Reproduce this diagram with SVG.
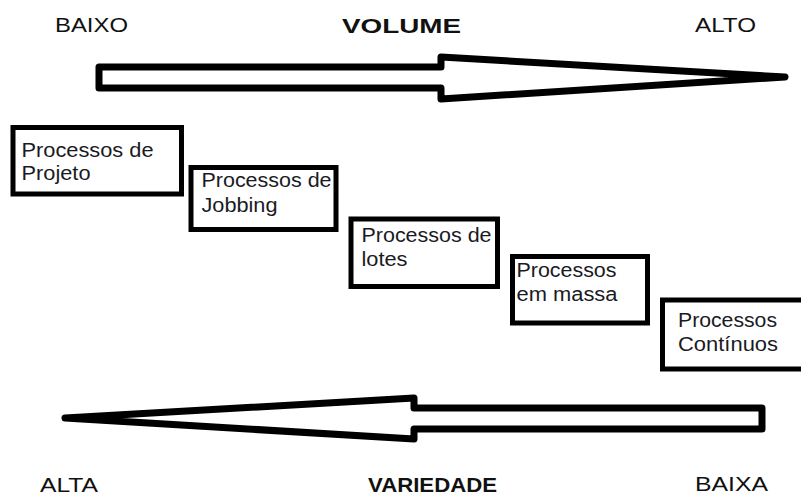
<svg xmlns="http://www.w3.org/2000/svg" width="801" height="497" viewBox="0 0 801 497">
<style>
.box{fill:#fff;stroke:#000;stroke-width:5}
.arrow{fill:#fff;stroke:#000;stroke-width:7;stroke-linejoin:round}
.t{font-family:"Liberation Sans",Arial,sans-serif;font-size:20px;fill:#1a1a24}
.h{font-family:"Liberation Sans",Arial,sans-serif;font-size:21px;fill:#111}
.b{font-weight:bold}
</style>
<rect width="801" height="497" fill="#fff"/>
<g id="labels">
<text class="h" x="55" y="32" textLength="73" lengthAdjust="spacingAndGlyphs">BAIXO</text>
<text class="h b" x="342" y="33" textLength="119" lengthAdjust="spacingAndGlyphs">VOLUME</text>
<text class="h" x="695" y="32" textLength="61" lengthAdjust="spacingAndGlyphs">ALTO</text>
<text class="h" x="40" y="492" textLength="58" lengthAdjust="spacingAndGlyphs">ALTA</text>
<text class="h b" x="368" y="492" textLength="129" lengthAdjust="spacingAndGlyphs">VARIEDADE</text>
<text class="h" x="695" y="491" textLength="73" lengthAdjust="spacingAndGlyphs">BAIXA</text>
</g>
<g id="connectors">
<polygon id="arrow-volume" class="arrow" points="99,67 441,67 441,57 785,77 441,99 441,88 99,88"/>
<polygon id="arrow-variedade" class="arrow" points="762,408 414,408 414,398 65,418 414,439 414,429 762,429"/>
</g>
<g id="node-projeto">
<rect class="box" x="13" y="127.5" width="168.5" height="66.5"/>
<text class="t" x="21.5" y="157" textLength="132" lengthAdjust="spacingAndGlyphs">Processos de</text>
<text class="t" x="21.5" y="180" textLength="69" lengthAdjust="spacingAndGlyphs">Projeto</text>
</g>
<g id="node-jobbing">
<rect class="box" x="191" y="167.5" width="145" height="62"/>
<text class="t" x="201.5" y="187" textLength="130" lengthAdjust="spacingAndGlyphs">Processos de</text>
<text class="t" x="201.5" y="211.5" textLength="76" lengthAdjust="spacingAndGlyphs">Jobbing</text>
</g>
<g id="node-lotes">
<rect class="box" x="351" y="219" width="146.5" height="67.5"/>
<text class="t" x="361.5" y="241.5" textLength="130" lengthAdjust="spacingAndGlyphs">Processos de</text>
<text class="t" x="361.5" y="265.5" textLength="46" lengthAdjust="spacingAndGlyphs">lotes</text>
</g>
<g id="node-massa">
<rect class="box" x="512.5" y="256.5" width="135" height="66.5"/>
<text class="t" x="516.5" y="276.5" textLength="100" lengthAdjust="spacingAndGlyphs">Processos</text>
<text class="t" x="516.5" y="300.5" textLength="101" lengthAdjust="spacingAndGlyphs">em massa</text>
</g>
<g id="node-continuos">
<rect class="box" x="662.5" y="300" width="142" height="69"/>
<text class="t" x="678" y="326.5" textLength="99" lengthAdjust="spacingAndGlyphs">Processos</text>
<text class="t" x="678" y="350.5" textLength="100" lengthAdjust="spacingAndGlyphs">Contínuos</text>
</g>
</svg>
